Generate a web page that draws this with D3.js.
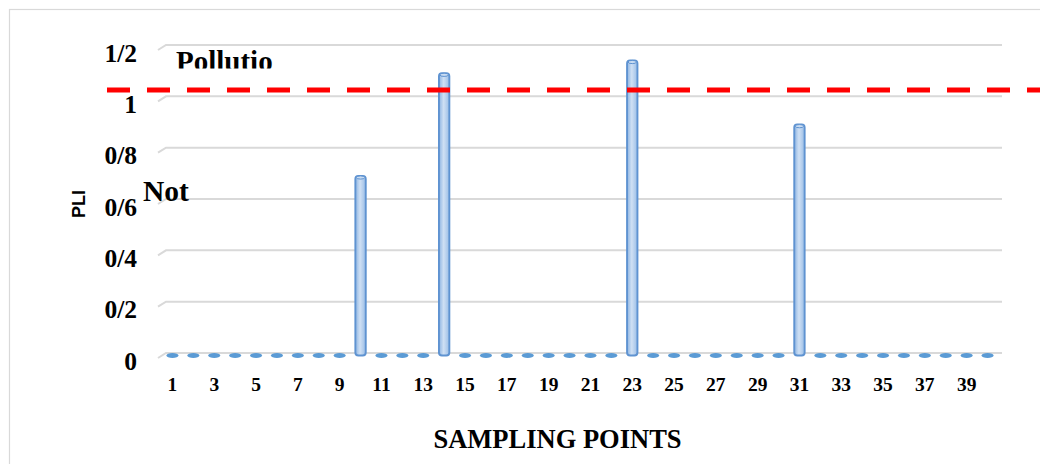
<!DOCTYPE html>
<html><head><meta charset="utf-8">
<script src="https://cdn.jsdelivr.net/npm/d3@7"></script>
<style>html,body{margin:0;padding:0;background:#fff;}svg{display:block;}</style>
</head><body>
<svg id="chart" width="1040" height="464"></svg>
<script>
const categories = d3.range(1, 41);
const pliValues = [0,0,0,0,0,0,0,0,0,0.69, 0,0,0,1.09,0,0,0,0,0,0, 0,0,1.14,0,0,0,0,0,0,0, 0.89,0,0,0,0,0,0,0,0,0];
const yTicks = [0, 0.2, 0.4, 0.6, 0.8, 1.0, 1.2];
const yTickLabels = ["0", "0/2", "0/4", "0/6", "0/8", "1", "1/2"];
const xTickLabels = d3.range(1, 40, 2);
const threshold = 1.025;

const svg = d3.select("#chart");
const serif = "'Liberation Serif','Times New Roman',serif";

const defs = svg.append("defs");
const grad = defs.append("linearGradient").attr("id", "barGrad").attr("x1", "0").attr("x2", "1").attr("y1", "0").attr("y2", "0");
grad.append("stop").attr("offset", "0%").attr("stop-color", "#8db4e2");
grad.append("stop").attr("offset", "45%").attr("stop-color", "#cfe0f4");
grad.append("stop").attr("offset", "100%").attr("stop-color", "#9abde6");
defs.append("clipPath").attr("id", "topClip").append("rect").attr("x", 0).attr("y", 0).attr("width", 1040).attr("height", 68.5);

// outer frame
svg.append("rect").attr("x", 9.5).attr("y", 9.5).attr("width", 1100).attr("height", 500)
  .attr("fill", "none").attr("stroke", "#d9d9d9").attr("stroke-width", 1.2);

const x = d3.scaleBand().domain(categories).range([162, 998]).paddingInner(0).paddingOuter(0);
const y = d3.scaleLinear().domain([0, 1.2]).range([353, 45]);
const cx = d => x(d) + x.bandwidth() / 2;

// gridlines with 3D floor offset
const grid = svg.append("g");
yTicks.forEach(t => {
  grid.append("path")
    .attr("d", `M158,${y(t) + 5} L166,${y(t)} L1002,${y(t)}`)
    .attr("fill", "none").attr("stroke", "#d9d9d9").attr("stroke-width", 2);
});

// y axis labels
const yAxis = d3.axisLeft(y).tickValues(yTicks).tickFormat((d, i) => yTickLabels[i]).tickSize(0).tickPadding(0);
const yg = svg.append("g").attr("transform", "translate(137,0)").call(yAxis);
yg.select(".domain").remove();
yg.selectAll("text").attr("font-family", serif).attr("font-weight", "bold").attr("font-size", 25.5)
  .attr("fill", "#000").attr("dy", null).attr("y", 0)
  .attr("transform", "translate(0,16)");

// x axis labels
const xAxis = d3.axisBottom(x).tickValues(xTickLabels).tickSize(0).tickPadding(0);
const xg = svg.append("g").attr("transform", "translate(0,377)").call(xAxis);
xg.select(".domain").remove();
xg.selectAll("text").attr("font-family", serif).attr("font-weight", "bold").attr("font-size", 19.5).attr("fill", "#000");

// bars
const bars = svg.append("g");
categories.forEach((c, i) => {
  const v = pliValues[i];
  const xc = cx(c);
  if (v === 0) {
    bars.append("ellipse").attr("cx", xc).attr("cy", 355.5).attr("rx", 6).attr("ry", 2.4).attr("fill", "#5b9bd5");
  } else {
    const top = y(v);
    bars.append("rect").attr("x", xc - 5.2).attr("y", top).attr("width", 10.4).attr("height", 355.5 - top)
      .attr("rx", 3).attr("fill", "url(#barGrad)").attr("stroke", "#5f93d1").attr("stroke-width", 1.9);
    bars.append("ellipse").attr("cx", xc).attr("cy", top + 1.6).attr("rx", 4.2).attr("ry", 1.6)
      .attr("fill", "#c9dcf2").attr("stroke", "#5f93d1").attr("stroke-width", 1);
  }
});

// threshold line
svg.append("line").attr("x1", 107).attr("x2", 1040).attr("y1", y(threshold)).attr("y2", y(threshold))
  .attr("stroke", "#ff0000").attr("stroke-width", 5).attr("stroke-dasharray", "23,17");

// annotations
svg.append("text").attr("x", 176).attr("y", 71).attr("clip-path", "url(#topClip)")
  .attr("font-family", serif).attr("font-weight", "bold").attr("font-size", 29).attr("fill", "#000").text("Pollutio");
svg.append("text").attr("x", 143).attr("y", 201)
  .attr("font-family", serif).attr("font-weight", "bold").attr("font-size", 29.5).attr("fill", "#000").text("Not");

// axis titles
svg.append("text").attr("transform", "translate(85,204) rotate(-90)").attr("text-anchor", "middle")
  .attr("font-family", "'Liberation Sans',Arial,sans-serif").attr("font-weight", "bold").attr("font-size", 18).attr("fill", "#000").text("PLI");
svg.append("text").attr("x", 557.5).attr("y", 448).attr("text-anchor", "middle")
  .attr("font-family", serif).attr("font-weight", "bold").attr("font-size", 26.5).attr("fill", "#000").text("SAMPLING POINTS");
</script>
</body></html>
